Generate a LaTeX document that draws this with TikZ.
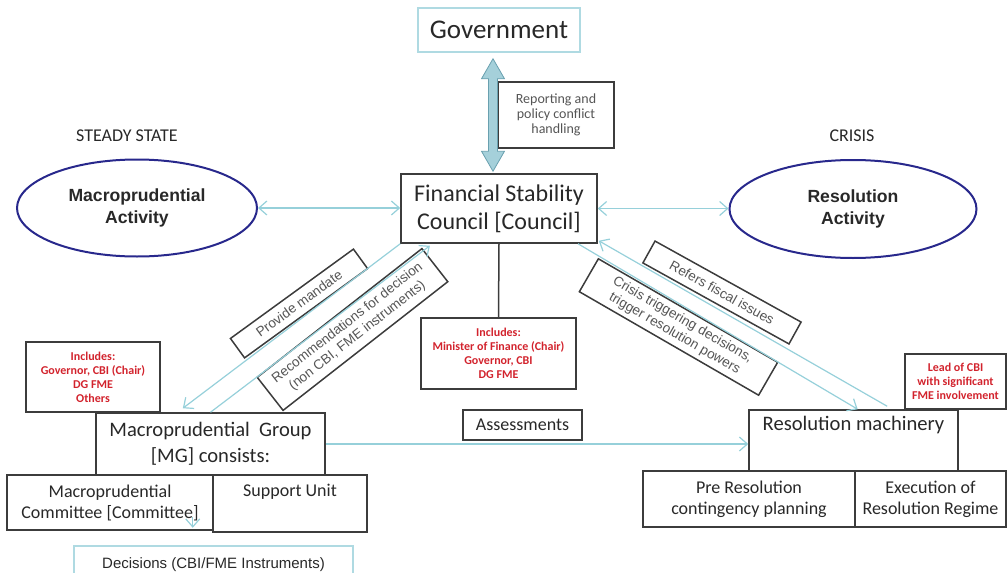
\documentclass[tikz,border=0pt]{standalone}
\usepackage{fontspec}
\setmainfont{Carlito}
\newfontfamily\arialf{Liberation Sans}
\usetikzlibrary{arrows.meta,shapes.geometric,calc}

\definecolor{linkc}{RGB}{150,208,218}
\definecolor{fatfill}{RGB}{165,208,218}
\definecolor{fatdraw}{RGB}{105,160,175}
\definecolor{boxc}{RGB}{60,60,60}
\definecolor{govc}{RGB}{175,218,226}
\definecolor{ellc}{RGB}{40,40,140}
\definecolor{redc}{RGB}{210,35,45}
\definecolor{txtc}{RGB}{40,40,40}
\definecolor{lblc}{RGB}{85,85,85}

\tikzset{
  box/.style={draw=boxc, line width=0.75pt, inner sep=1pt, align=center, text=txtc},
  bigtxt/.style={font=\fontsize{12}{14}\selectfont},
  midtxt/.style={font=\fontsize{10.3}{13}\selectfont},
  smalltxt/.style={font=\fontsize{9}{10.5}\selectfont},
  redtxt/.style={text=redc, font=\bfseries\fontsize{6}{7}\selectfont},
  lbl/.style={box, text=lblc, font=\arialf\fontsize{6.8}{8}\selectfont},
  activity/.style={ellipse, draw=ellc, line width=1pt, align=center, inner sep=0pt,
    text=txtc, font=\arialf\bfseries\fontsize{8.8}{11}\selectfont},
  link/.style={draw=linkc, line width=0.6pt},
  fat/.style={fill=fatfill, draw=fatdraw, line width=0.4pt},
}

\begin{document}
\begin{tikzpicture}[x=0.5pt,y=-0.5pt,>={Straight Barb[length=4pt,width=7pt]}]
\useasboundingbox (0,0) rectangle (1008,573);

% top
\node[box, draw=govc, minimum width=81pt, minimum height=22pt, font=\fontsize{13.5}{16}\selectfont] (gov) at (499,30) {Government};
\node[box, text=lblc, minimum width=58pt, minimum height=33pt, font=\fontsize{7}{7.5}\selectfont] (rep) at (556,115) {Reporting and\\policy conflict\\handling};
\node[box, bigtxt, minimum width=98pt, minimum height=34.5pt] (fsc) at (499,208.5) {Financial Stability\\Council [Council]};

% the two states
\node[text=txtc, font=\fontsize{9}{11}\selectfont] (steady) at (127,136) {STEADY STATE};
\node[text=txtc, font=\fontsize{9}{11}\selectfont] (crisis) at (852,136) {CRISIS};
\node[activity, minimum width=120pt, minimum height=48.5pt] (mact) at (137,208) {Macroprudential\\Activity};
\node[activity, minimum width=123.5pt, minimum height=49pt] (ract) at (853,209) {Resolution\\Activity};

% members
\node[box, redtxt, minimum width=77.5pt, minimum height=35.5pt] (incc) at (498.5,353.5) {Includes:\\Minister of Finance (Chair)\\Governor, CBI\\DG FME};
\node[box, redtxt, minimum width=67pt, minimum height=35pt] (incl) at (93,377) {Includes:\\Governor, CBI (Chair)\\DG FME\\Others};
\node[box, redtxt, minimum width=50.5pt, minimum height=27.5pt] (lead) at (955.5,381.5) {Lead of CBI\\with significant\\FME involvement};

% left group
\node[box, midtxt, minimum width=114.5pt, minimum height=31pt] (mg) at (210.5,444) {Macroprudential\ \ Group\\{[MG]} consists:};
\node[box, smalltxt, minimum width=103pt, minimum height=27.5pt] (comm) at (110,502.5) {Macroprudential\\Committee [Committee]};
\node[box, smalltxt, minimum width=77pt, minimum height=28.5pt] (sup) at (290,503.5) {Support Unit\\ \strut};
\node[box, draw=govc, minimum width=139.5pt, minimum height=19pt, font=\arialf\fontsize{7.5}{9}\selectfont] (dec) at (213.5,565) {Decisions (CBI/FME Instruments)};

% right group
\node[box, smalltxt, minimum width=59.5pt, minimum height=15pt] (ass) at (522.5,425) {Assessments};
\node[box, midtxt, minimum width=104.5pt, minimum height=30.5pt] (rm) at (853.5,440.5) {Resolution machinery\\ \strut};
\node[box, smalltxt, minimum width=106pt, minimum height=28pt] (pre) at (749,499) {Pre Resolution\\contingency planning};
\node[box, smalltxt, minimum width=75.5pt, minimum height=28pt] (exe) at (930.5,499) {Execution of\\Resolution Regime};

% labels on the slanted arrows
\node[lbl, rotate=36, minimum width=76pt, minimum height=12pt] (pm) at (299,303.5) {Provide mandate};
\node[lbl, rotate=38, minimum width=104.5pt, minimum height=21pt] (rec) at (352.5,329.5) {Recommendations for decision\\(non CBI, FME instruments)};
\node[lbl, rotate=-29, minimum width=83.5pt, minimum height=12.5pt] (ref) at (722,292.5) {Refers fiscal issues};
\node[lbl, rotate=-30, minimum width=103.5pt, minimum height=19pt] (cri) at (678.5,327) {Crisis triggering decisions,\\trigger resolution powers};

% government <-> council
\coordinate (ft) at ($(gov.south)+(-6,6)$);
\coordinate (fb) at ($(fsc.north)+(-6,-2)$);
\draw[fat] (ft) -- ++(11.5,20) -- ++(-7,0) -- ($(fb)+(4.5,-20)$) -- ++(7,0) -- (fb)
  -- ++(-11.5,-20) -- ++(7,0) -- ($(ft)+(-4.5,20)$) -- ++(-7,0) -- cycle;

% connectors
\draw[link,<->] (mact.east) -- (mact.east -| fsc.west);
\draw[link,<->] (fsc.east) -- (fsc.east -| ract.west);
\draw[boxc, line width=0.75pt] (fsc.south) -- (incc.north);
\draw[link,->] (fsc.south west) -- ($(mg.north west)!0.38!(mg.north east)+(0,-4)$);
\draw[link,->] (mg.north) -- ($(fsc.south west)!0.15!(fsc.south east)+(0,2)$);
\draw[link,->] ($(fsc.south west)!0.9!(fsc.south east)$) -- ($(rm.north west)!0.52!(rm.north east)$);
\draw[link,->] ($(rm.north west)!0.66!(rm.north east)+(0,-3)$) -- ($(fsc.south east)+(1,-3)$);
\draw[link,->] (mg.east) -- (mg.east -| rm.west);
\draw[link,->] ($(comm.south east)+(-21,-14)$) -- ($(comm.south east)+(-21,-3)$);
\end{tikzpicture}
\end{document}
